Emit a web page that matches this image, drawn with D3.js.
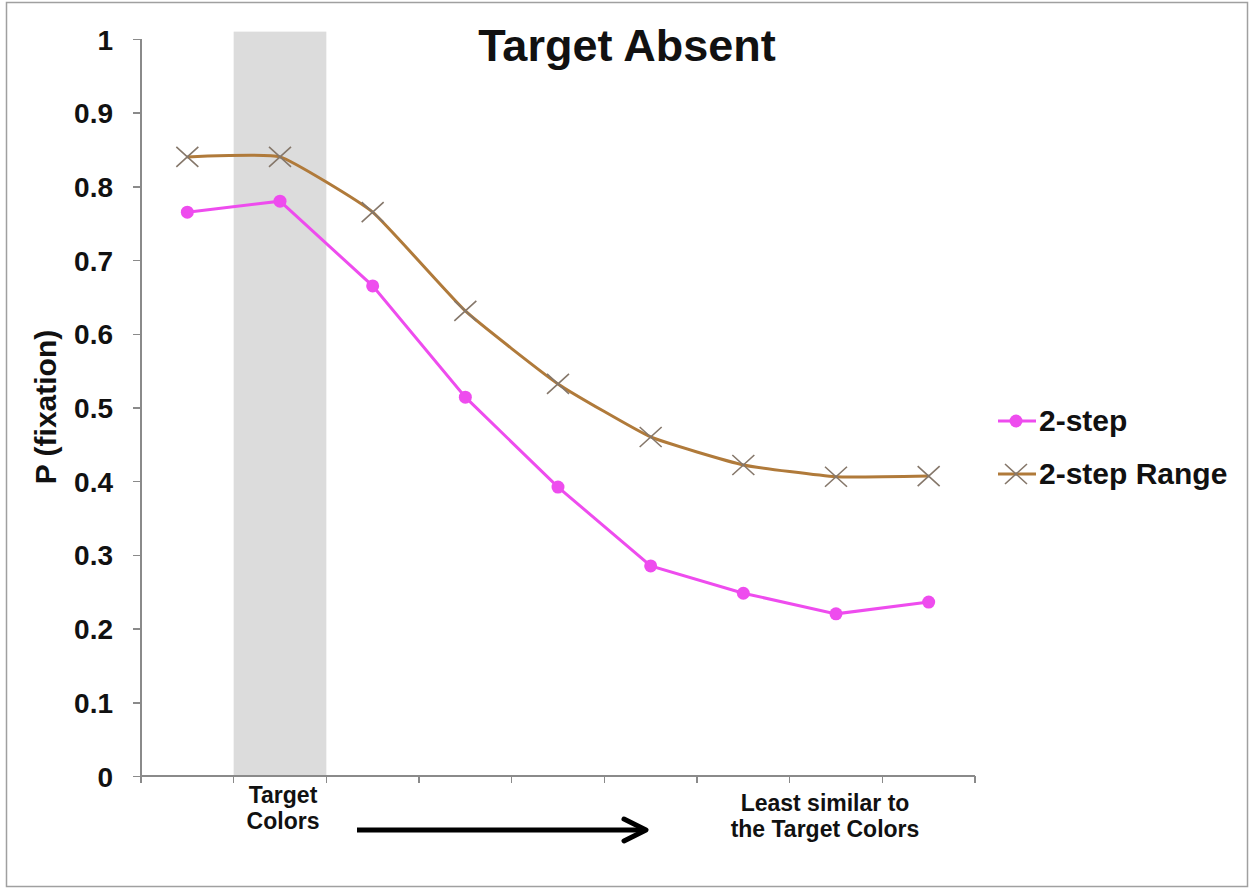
<!DOCTYPE html>
<meta charset="utf-8">
<style>
    body { margin: 0; background: #fff; }
    text { font-family: "Liberation Sans", Arial, sans-serif; font-weight: bold; fill: #111; }
    .axis path, .axis line { stroke: #8a8a8a; stroke-width: 1.5px; shape-rendering: crispEdges; }
    .axis text { font-size: 28px; font-family: "Liberation Sans", Arial, sans-serif; font-weight: bold; fill: #111; }
</style>
<body>
<svg width="1251" height="888"></svg>
<script src="https://d3js.org/d3.v7.min.js"></script>
<script>
    // data
    var categories = ["1", "2", "3", "4", "5", "6", "7", "8", "9"];
    var twoStep = [0.765, 0.780, 0.665, 0.514, 0.392, 0.285, 0.248, 0.220, 0.236];
    var twoStepRange = [0.840, 0.840, 0.765, 0.631, 0.532, 0.460, 0.422, 0.406, 0.407];
    var yTicks = [0, 0.1, 0.2, 0.3, 0.4, 0.5, 0.6, 0.7, 0.8, 0.9, 1];
    var targetBand = {category: "2", top: 1.01};
    var seriesNames = ["2-step", "2-step Range"];

    var svg = d3.select("svg"),
        margin = {top: 39, right: 276, bottom: 112, left: 141},
        width = +svg.attr("width") - margin.left - margin.right,
        height = +svg.attr("height") - margin.top - margin.bottom;

    // outer frame
    svg.append("rect")
        .attr("x", 6.5).attr("y", 2.5)
        .attr("width", 1241).attr("height", 884)
        .attr("fill", "none")
        .attr("stroke", "#a0a0a0")
        .attr("stroke-width", 1.5);

    var x = d3.scaleBand().domain(categories).range([0, width]).padding(0);
    var y = d3.scaleLinear().domain([0, 1]).range([height, 0]);

    var g = svg.append("g")
        .attr("transform", "translate(" + margin.left + "," + margin.top + ")");

    // gray band for target colours
    g.append("rect")
        .attr("x", x(targetBand.category))
        .attr("width", x.bandwidth())
        .attr("y", y(targetBand.top))
        .attr("height", height - y(targetBand.top))
        .attr("fill", "#dcdcdc");

    // axes
    g.append("g")
        .attr("class", "axis")
        .call(d3.axisLeft(y).tickValues(yTicks).tickSize(8).tickPadding(20)
            .tickFormat(function(d) { return d3.format("")(+d.toFixed(1)); }))
        .call(function(a) { a.select(".domain").attr("d", "M0,0V" + height); })
        .selectAll("text").attr("dy", "0.36em");

    var xAxis = g.append("g")
        .attr("class", "axis")
        .attr("transform", "translate(0," + height + ")");
    xAxis.append("line")
        .attr("x1", 0).attr("x2", width);
    xAxis.selectAll(".tk")
        .data(categories.concat(["end"]))
        .enter().append("line")
        .attr("x1", function(d, i) { return i * x.step(); })
        .attr("x2", function(d, i) { return i * x.step(); })
        .attr("y1", 0).attr("y2", 7);

    var cx = function(d, i) { return x(categories[i]) + x.bandwidth() / 2; };

    // 2-step Range (lightly smoothed, brown)
    var smooth = d3.line()
        .x(cx)
        .y(function(d) { return y(d); })
        .curve(d3.curveCardinal.tension(0.6));
    g.append("path")
        .datum(twoStepRange)
        .attr("fill", "none")
        .attr("stroke", "#b07a3a")
        .attr("stroke-width", 3)
        .attr("d", smooth);

    var xs = 11;
    g.selectAll(".xm")
        .data(twoStepRange)
        .enter().append("path")
        .attr("class", "xm")
        .attr("transform", function(d, i) { return "translate(" + cx(d, i) + "," + y(d) + ")"; })
        .attr("d", "M" + (-xs) + "," + (-xs + 1) + "L" + xs + "," + (xs - 1) + "M" + (-xs) + "," + (xs - 1) + "L" + xs + "," + (-xs + 1))
        .attr("stroke", "#85776a")
        .attr("stroke-width", 1.6)
        .attr("fill", "none");

    // 2-step (magenta)
    var straight = d3.line()
        .x(cx)
        .y(function(d) { return y(d); });
    g.append("path")
        .datum(twoStep)
        .attr("fill", "none")
        .attr("stroke", "#ee4cee")
        .attr("stroke-width", 3)
        .attr("d", straight);
    g.selectAll(".dot")
        .data(twoStep)
        .enter().append("circle")
        .attr("class", "dot")
        .attr("cx", cx)
        .attr("cy", function(d) { return y(d); })
        .attr("r", 6.5)
        .attr("fill", "#ee4cee");

    // title
    svg.append("text")
        .attr("x", 627).attr("y", 61)
        .attr("text-anchor", "middle")
        .style("font-size", "45px")
        .text("Target Absent");

    // y label
    svg.append("text")
        .attr("transform", "translate(56,407) rotate(-90)")
        .attr("text-anchor", "middle")
        .style("font-size", "30px")
        .text("P (fixation)");

    // x annotations
    var xl = svg.append("g").attr("text-anchor", "middle");
    xl.append("text").attr("x", 283).attr("y", 803).style("font-size", "23px").text("Target");
    xl.append("text").attr("x", 283).attr("y", 829).style("font-size", "23px").text("Colors");
    xl.append("text").attr("x", 825).attr("y", 811).style("font-size", "23px").text("Least similar to");
    xl.append("text").attr("x", 825).attr("y", 837).style("font-size", "23px").text("the Target Colors");

    // arrow
    svg.append("line")
        .attr("x1", 357).attr("x2", 644)
        .attr("y1", 830).attr("y2", 830)
        .attr("stroke", "#000").attr("stroke-width", 5);
    svg.append("path")
        .attr("d", "M624,819L646,830L624,841")
        .attr("fill", "none")
        .attr("stroke", "#000")
        .attr("stroke-width", 5)
        .attr("stroke-linecap", "round")
        .attr("stroke-linejoin", "round");

    // legend
    var legend = svg.append("g").attr("transform", "translate(998,0)");
    var l1 = legend.append("g").attr("transform", "translate(0,421)");
    l1.append("line").attr("x1", 0).attr("x2", 38).attr("stroke", "#ee4cee").attr("stroke-width", 3);
    l1.append("circle").attr("cx", 18).attr("r", 6.5).attr("fill", "#ee4cee");
    l1.append("text").attr("x", 41).attr("y", 10).style("font-size", "30px").text(seriesNames[0]);

    var l2 = legend.append("g").attr("transform", "translate(0,474)");
    l2.append("line").attr("x1", 0).attr("x2", 38).attr("stroke", "#b07a3a").attr("stroke-width", 3);
    l2.append("path")
        .attr("d", "M" + (18 - xs) + "," + (-xs + 1) + "L" + (18 + xs) + "," + (xs - 1) + "M" + (18 - xs) + "," + (xs - 1) + "L" + (18 + xs) + "," + (-xs + 1))
        .attr("stroke", "#85776a").attr("stroke-width", 1.6).attr("fill", "none");
    l2.append("text").attr("x", 41).attr("y", 10).style("font-size", "30px").text(seriesNames[1]);
</script>
